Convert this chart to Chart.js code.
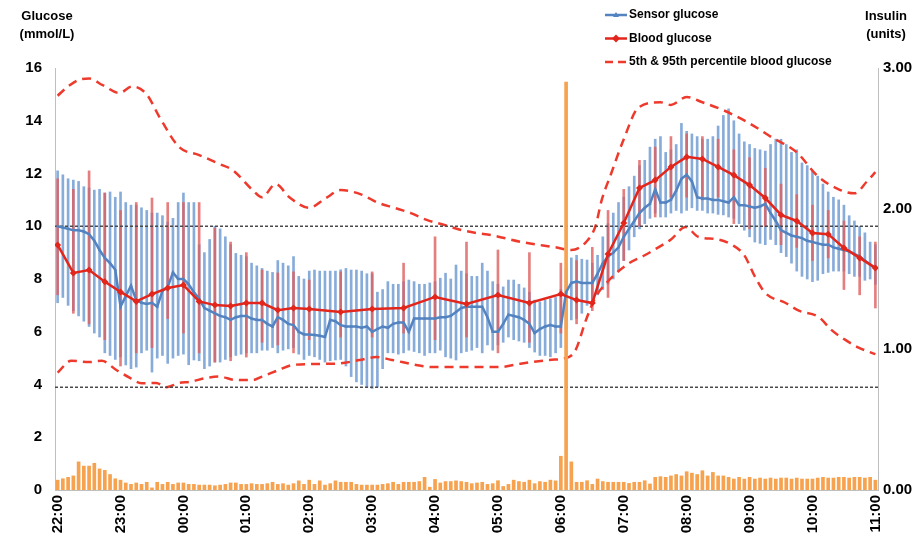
<!DOCTYPE html>
<html>
<head>
<meta charset="utf-8">
<script src="https://cdn.jsdelivr.net/npm/chart.js"></script>
<style>
  html, body { margin: 0; padding: 0; background: #fff; }
  #wrap { position: relative; width: 921px; height: 541px; }
</style>
</head>
<body>
<div id="wrap"><canvas id="glucoseChart"></canvas></div>
<script>
// ───────── overnight glucose / insulin profile ─────────

// time axis labels, one per hour from 22:00
const hourLabels = ['22:00', '23:00', '00:00', '01:00', '02:00', '03:00', '04:00',
    '05:00', '06:00', '07:00', '08:00', '09:00', '10:00', '11:00'];
const sampleStep = 5; // sensor + insulin sampled every 5 min from 22:00

// sensor glucose (mmol/L): mean and bar ends, one row per hour
const sensorMean = [
    10.0, 9.95, 9.9, 9.85, 9.85, 9.8, 9.7, 9.45, 9.1, 8.8, 8.6, 8.35,
    6.95, 7.35, 7.75, 7.2, 7.1, 7.05, 7.1, 6.95, 7.55, 7.7, 8.25, 8.0,
    8.0, 7.8, 7.5, 7.25, 6.9, 6.8, 6.7, 6.6, 6.55, 6.45, 6.55, 6.6,
    6.6, 6.5, 6.45, 6.45, 6.3, 6.2, 6.55, 6.45, 6.3, 6.25, 6.0, 5.9,
    5.9, 5.88, 5.85, 5.8, 6.45, 6.4, 6.25, 6.2, 6.2, 6.2, 6.15, 6.2,
    6.0, 6.1, 6.2, 6.15, 6.3, 6.35, 6.35, 6.0, 6.5, 6.5, 6.5, 6.5,
    6.5, 6.55, 6.55, 6.6, 6.75, 6.9, 6.95, 6.95, 6.95, 6.95, 6.55, 6.0,
    6.0, 6.3, 6.65, 6.6, 6.55, 6.45, 6.3, 5.95, 6.1, 6.2, 6.25, 6.2,
    6.2, 7.5, 7.85, 7.9, 7.85, 7.85, 7.85, 8.2, 8.6, 8.85, 9.0, 9.2,
    9.6, 9.9, 10.2, 10.5, 10.7, 10.85, 11.4, 10.9, 10.9, 11.0, 11.35, 11.8,
    11.95, 11.7, 11.1, 11.05, 11.05, 11.0, 11.0, 10.95, 10.9, 11.1, 10.8, 10.8,
    10.75, 10.7, 10.75, 10.85, 10.5, 10.2, 9.85, 9.75, 9.65, 9.6, 9.55, 9.45,
    9.4, 9.35, 9.3, 9.3, 9.2, 9.15, 9.1, 9.05, 8.95, 8.85, 8.7, 8.55, 8.4
];
const sensorHigh = [
    12.1, 11.95, 11.8, 11.75, 11.7, 11.5, 11.45, 11.37, 11.4, 11.26, 11.3, 11.1,
    11.3, 10.9, 10.8, 10.8, 10.7, 10.6, 10.5, 10.5, 10.4, 10.16, 10.3, 10.9,
    11.26, 10.9, 10.9, 9.3, 9.0, 9.5, 10.0, 9.9, 9.6, 9.3, 8.97, 8.9,
    8.85, 8.6, 8.5, 8.4, 8.3, 8.25, 8.7, 8.6, 8.5, 8.85, 8.1, 8.0,
    8.3, 8.34, 8.3, 8.3, 8.3, 8.3, 8.35, 8.4, 8.34, 8.34, 8.3, 8.2,
    8.2, 7.5, 7.6, 7.9, 7.8, 7.8, 7.9, 7.96, 7.9, 7.8, 7.8, 7.85,
    7.9, 8.03, 8.22, 8.0, 8.53, 8.3, 8.2, 8.1, 8.1, 8.6, 8.3, 7.9,
    7.8, 7.7, 7.96, 7.96, 7.8, 7.66, 7.5, 7.2, 7.13, 7.2, 7.25, 7.3,
    7.6, 8.4, 8.8, 8.9, 8.75, 8.72, 8.6, 8.9, 9.6, 10.1, 10.5, 10.9,
    11.1, 11.5, 11.9, 12.3, 12.5, 13.0, 13.3, 13.4, 12.8, 12.9, 13.1, 13.9,
    13.6, 13.5, 13.4, 13.3, 13.3, 13.4, 13.8, 14.2, 14.45, 14.0, 13.5, 13.2,
    13.1, 12.95, 12.9, 12.85, 13.1, 13.3, 13.3, 13.1, 12.8, 12.9, 12.4, 12.3,
    12.1, 11.9, 11.6, 11.3, 11.1, 11.0, 10.8, 10.4, 10.2, 10.0, 9.75, 9.4, 9.3
];
const sensorLow = [
    7.1, 7.3, 7.0, 6.8, 6.6, 6.4, 6.2, 5.95, 5.8, 5.2, 5.1, 4.95,
    5.05, 4.74, 4.6, 4.66, 5.2, 5.3, 4.47, 5.0, 5.1, 4.8, 5.0, 5.1,
    5.15, 4.75, 4.93, 4.9, 4.6, 4.7, 4.85, 4.85, 4.95, 5.05, 5.1, 5.15,
    5.2, 5.2, 5.2, 5.3, 5.3, 5.4, 5.2, 5.3, 5.35, 5.4, 5.15, 4.95,
    5.1, 5.05, 4.95, 4.85, 4.9, 4.93, 4.95, 4.7, 4.3, 4.1, 4.0, 3.9,
    3.85, 3.9, 4.6, 5.2, 5.2, 5.15, 5.2, 5.3, 5.25, 5.2, 5.1, 5.2,
    5.2, 5.3, 5.05, 5.0, 4.93, 5.2, 5.25, 5.3, 5.4, 5.2, 5.5, 5.3,
    5.5, 5.6, 5.8, 5.7, 5.65, 5.6, 5.4, 5.23, 5.1, 5.1, 5.05, 5.2,
    5.4, 6.1, 6.45, 6.5, 6.7, 7.0, 7.2, 7.4, 7.6, 7.8, 8.0, 8.3,
    8.7, 9.1, 9.6, 9.9, 10.1, 10.3, 10.5, 10.35, 10.35, 10.5, 10.6, 10.5,
    10.6, 10.7, 10.6, 10.6, 10.5, 10.5, 10.45, 10.43, 10.35, 10.3, 10.1, 9.85,
    9.6, 9.4, 9.35, 9.3, 9.5, 9.3, 9.0, 8.85, 8.6, 8.3, 8.1, 8.0,
    7.9, 7.95, 8.2, 8.25, 8.3, 8.3, 8.3, 8.2, 8.1, 8.1, 7.95, 8.0, 7.8
];

// insulin delivered (units) per 5 min
const insulin = [
    0.07, 0.08, 0.09, 0.1, 0.2, 0.17, 0.17, 0.19, 0.15, 0.14, 0.11, 0.08,
    0.07, 0.05, 0.04, 0.05, 0.04, 0.055, 0.015, 0.055, 0.04, 0.055, 0.04, 0.05,
    0.05, 0.04, 0.04, 0.035, 0.035, 0.035, 0.03, 0.035, 0.04, 0.05, 0.05, 0.04,
    0.04, 0.045, 0.04, 0.04, 0.045, 0.055, 0.04, 0.045, 0.035, 0.045, 0.065, 0.04,
    0.07, 0.04, 0.065, 0.035, 0.045, 0.065, 0.055, 0.055, 0.055, 0.04, 0.035, 0.035,
    0.035, 0.035, 0.04, 0.045, 0.055, 0.04, 0.055, 0.055, 0.055, 0.06, 0.09, 0.02,
    0.075, 0.05, 0.06, 0.06, 0.065, 0.06, 0.055, 0.045, 0.05, 0.055, 0.04, 0.045,
    0.066, 0.025, 0.04, 0.07, 0.06, 0.055, 0.07, 0.045, 0.06, 0.055, 0.07, 0.065,
    0.24, 2.9, 0.2, 0.055, 0.055, 0.066, 0.04, 0.078, 0.06, 0.055, 0.055, 0.055,
    0.055, 0.047, 0.055, 0.055, 0.066, 0.043, 0.09, 0.095, 0.09, 0.1, 0.11, 0.1,
    0.13, 0.12, 0.11, 0.137, 0.1, 0.125, 0.1, 0.1, 0.09, 0.078, 0.09, 0.078,
    0.09, 0.078, 0.085, 0.078, 0.085, 0.078, 0.085, 0.085, 0.078, 0.085, 0.078, 0.078,
    0.078, 0.085, 0.09, 0.085, 0.085, 0.09, 0.09, 0.085, 0.09, 0.09, 0.085, 0.09, 0.07
];

// blood glucose (minutes after 22:00)
const bgTimes = [0, 15, 30, 45, 60, 75, 90, 105, 120, 135, 150, 165, 180, 195, 210, 225, 240,
    270, 300, 330, 360, 390, 420, 450, 480,
    495, 510, 525, 540, 555, 570, 585, 600, 615, 630, 645, 660, 675, 690, 705, 720, 735, 750, 765, 780];
const bgMean = [9.29, 8.23, 8.34, 7.9, 7.51, 7.15, 7.43, 7.66, 7.77, 7.15, 7.01, 6.98, 7.09, 7.09, 6.82, 6.9, 6.86,
    6.75, 6.86, 6.9, 7.32, 7.05, 7.39, 7.09, 7.43,
    7.2, 7.09, 8.95, 10.12, 11.45, 11.75, 12.25, 12.63, 12.55, 12.25, 11.94, 11.56, 11.07, 10.43, 10.2, 9.74, 9.7, 9.18, 8.8, 8.42];
const bgLow = [7.4, 6.7, 6.3, 5.7, 4.7, 5.2, 5.4, 6.5, 5.95, 5.2, 4.85, 4.9, 5.04, 5.6, 5.5, 5.2, 5.7,
    5.8, 5.8, 5.95, 5.7, 5.8, 5.2, 5.6, 5.95,
    6.3, 6.8, 7.3, 8.7, 10.0, 10.35, 11.1, 11.1, 11.0, 11.1, 10.1, 9.9, 10.0, 9.3, 9.2, 8.7, 8.8, 7.6, 7.4, 6.9];
const bgHigh = [11.8, 11.4, 12.1, 11.26, 10.6, 10.9, 11.07, 10.9, 10.9, 10.9, 9.93, 9.4, 9.0, 8.34, 8.23, 8.27, 7.96,
    8.27, 8.27, 8.6, 9.6, 9.4, 9.1, 9.0, 8.6,
    8.7, 9.2, 10.6, 11.4, 12.5, 13.0, 13.4, 13.5, 13.4, 13.3, 12.9, 12.6, 12.2, 11.6, 11.2, 10.8, 10.6, 10.2, 9.6, 9.4];

// 95th percentile blood glucose
const p95Times = [0, 10, 20, 30, 43, 59, 71, 85, 97, 116, 135, 155, 167, 186, 195, 208, 221, 240, 256, 270,
    290, 305, 321, 337, 352, 369, 385, 400, 413, 443, 475, 490, 504, 513, 519, 528, 540, 554,
    575, 585, 600, 615, 635, 660, 680, 705, 725, 745, 760, 772, 780];
const p95 = [14.95, 15.3, 15.55, 15.6, 15.35, 15.05, 15.3, 15.0, 14.15, 13.0, 12.7, 12.35, 12.13, 11.37, 11.1, 11.6, 11.1, 10.7, 11.07, 11.37,
    11.2, 10.9, 10.7, 10.5, 10.24, 10.05, 9.86, 9.74, 9.67, 9.4, 9.2, 9.1, 9.4, 10.0, 11.0, 12.0, 13.3, 14.5,
    14.7, 14.6, 14.9, 14.7, 14.4, 13.9, 13.4, 12.8, 11.9, 11.4, 11.25, 11.7, 12.05];

// 5th percentile blood glucose
const p5Times = [0, 13, 30, 42, 56, 69, 80, 94, 104, 116, 126, 142, 154, 170, 186, 195, 211, 224, 250, 269,
    288, 304, 319, 342, 357, 390, 421, 443, 469, 488, 494, 504, 513, 526, 545, 560, 573, 585, 599,
    611, 630, 643, 655, 665, 675, 694, 707, 726, 738, 751, 764, 780];
const p5 = [4.45, 4.9, 4.85, 4.9, 4.55, 4.25, 4.05, 4.06, 3.9, 4.06, 4.1, 4.25, 4.3, 4.17, 4.17, 4.3, 4.55, 4.74, 4.78, 4.8,
    4.93, 5.04, 4.93, 4.74, 4.66, 4.66, 4.66, 4.8, 4.93, 5.05, 5.3, 6.45, 7.3, 7.96, 8.6, 8.9, 9.2, 9.5, 9.97,
    9.6, 9.5, 9.3, 8.9, 8.1, 7.47, 7.1, 6.8, 6.56, 6.07, 5.7, 5.4, 5.15];

// target range lines (mmol/L)
const thresholds = [10, 3.9];

const FONT = '"Liberation Sans", Arial, sans-serif';
const BLUE = '#5383c0';
const RED = '#e3261c';
const DASH_RED = '#ee3a2c';

const sensorTimes = sensorMean.map((_, i) => i * sampleStep);
const toPoints = (times, vals) => vals.map((v, i) => ({ x: times[i], y: v }));
const toRanges = (times, lo, hi) => lo.map((v, i) => ({ x: times[i], y: [v, hi[i]] }));
const timeMin = -2.5, timeMax = 782.5;

const legendItems = [
    { text: 'Sensor glucose', color: BLUE, marker: 'triangle', dash: [] },
    { text: 'Blood glucose', color: RED, marker: 'diamond', dash: [] },
    { text: '5th & 95th percentile blood glucose', color: DASH_RED, marker: null, dash: [8, 5] }
];

// axis titles + legend drawn on the canvas
const titlesPlugin = {
    id: 'titles',
    afterDraw(chart) {
        const ctx = chart.ctx;
        ctx.save();
        ctx.fillStyle = '#000';
        ctx.font = 'bold 13px ' + FONT;
        ctx.textAlign = 'center';
        ctx.textBaseline = 'middle';
        ctx.fillText('Glucose', 47, 16);
        ctx.fillText('(mmol/L)', 47, 34);
        ctx.fillText('Insulin', 886, 16);
        ctx.fillText('(units)', 886, 34);

        ctx.font = 'bold 12px ' + FONT;
        ctx.textAlign = 'left';
        legendItems.forEach((it, i) => {
            const y = 15 + i * 23.5;
            ctx.strokeStyle = it.color;
            ctx.fillStyle = it.color;
            ctx.lineWidth = 2.5;
            ctx.setLineDash(it.dash);
            ctx.beginPath();
            ctx.moveTo(605, y);
            ctx.lineTo(627, y);
            ctx.stroke();
            ctx.setLineDash([]);
            if (it.marker === 'triangle') {
                ctx.beginPath();
                ctx.moveTo(616, y - 3); ctx.lineTo(619, y + 2); ctx.lineTo(613, y + 2);
                ctx.closePath(); ctx.fill();
            } else if (it.marker === 'diamond') {
                ctx.beginPath();
                ctx.moveTo(616, y - 4); ctx.lineTo(620, y); ctx.lineTo(616, y + 4); ctx.lineTo(612, y);
                ctx.closePath(); ctx.fill();
            }
            ctx.fillStyle = '#000';
            ctx.fillText(it.text, 629, y);
        });
        ctx.restore();
    }
};

const tickFont = { family: FONT, size: 15, weight: 'bold' };

new Chart(document.getElementById('glucoseChart'), {
    type: 'line',
    data: {
        datasets: [
            { type: 'line', label: 'Blood glucose', data: toPoints(bgTimes, bgMean), yAxisID: 'y',
              borderColor: RED, backgroundColor: RED, borderWidth: 2.5,
              pointStyle: 'rectRot', pointRadius: 3.5, pointBorderWidth: 0, order: 1 },
            { type: 'line', label: 'Sensor glucose', data: toPoints(sensorTimes, sensorMean), yAxisID: 'y',
              borderColor: BLUE, backgroundColor: BLUE, borderWidth: 2.5,
              pointStyle: 'triangle', pointRadius: 1.8, pointBorderWidth: 0, order: 2 },
            { type: 'bar', label: 'Insulin', data: toPoints(sensorTimes, insulin), yAxisID: 'y2',
              backgroundColor: '#f6a24e', barThickness: 3, grouped: false, order: 3 },
            ...thresholds.map(v => ({
                type: 'line', label: 'limit ' + v, data: [{ x: timeMin, y: v }, { x: timeMax, y: v }], yAxisID: 'y',
                borderColor: '#4a4a4a', borderWidth: 1.5, borderDash: [3, 2], pointRadius: 0, order: 4
            })),
            { type: 'line', label: '95th percentile', data: toPoints(p95Times, p95), yAxisID: 'y',
              borderColor: DASH_RED, borderWidth: 2.5, borderDash: [9, 6], pointRadius: 0,
              cubicInterpolationMode: 'monotone', order: 5 },
            { type: 'line', label: '5th percentile', data: toPoints(p5Times, p5), yAxisID: 'y',
              borderColor: DASH_RED, borderWidth: 2.5, borderDash: [9, 6], pointRadius: 0,
              cubicInterpolationMode: 'monotone', order: 5 },
            { type: 'bar', label: 'Blood glucose range', data: toRanges(bgTimes, bgLow, bgHigh), yAxisID: 'y',
              backgroundColor: 'rgba(222, 95, 95, 0.8)', barThickness: 2, grouped: false, order: 6 },
            { type: 'bar', label: 'Sensor glucose range', data: toRanges(sensorTimes, sensorLow, sensorHigh), yAxisID: 'y',
              backgroundColor: 'rgba(115, 158, 212, 0.85)', barThickness: 2, grouped: false, order: 7 }
        ]
    },
    options: {
        responsive: true,
        maintainAspectRatio: false,
        animation: false,
        layout: { padding: { top: 68, left: 0, right: 0, bottom: 0 } },
        plugins: { legend: { display: false }, tooltip: { enabled: false } },
        scales: {
            x: {
                type: 'linear', min: timeMin, max: timeMax, offset: false,
                grid: { display: false, drawTicks: false },
                border: { color: '#bfbfbf' },
                afterBuildTicks: s => { s.ticks = hourLabels.map((_, i) => ({ value: i * 60 })); },
                ticks: { autoSkip: false, minRotation: 90, maxRotation: 90, padding: 5, color: '#000',
                         font: tickFont, callback: v => hourLabels[Math.round(v / 60)] },
                afterFit: s => { s.height = 51; }
            },
            y: {
                position: 'left', min: 0, max: 16,
                grid: { display: false, drawTicks: false },
                border: { color: '#bfbfbf' },
                ticks: { stepSize: 2, padding: 13, color: '#000', font: tickFont },
                afterFit: s => { s.width = 55; }
            },
            y2: {
                position: 'right', min: 0, max: 3,
                grid: { display: false, drawTicks: false },
                border: { color: '#bfbfbf' },
                ticks: { stepSize: 1, padding: 5, color: '#000', font: tickFont, callback: v => v.toFixed(2) },
                afterFit: s => { s.width = 43; }
            }
        }
    },
    plugins: [titlesPlugin]
});
</script>
</body>
</html>
